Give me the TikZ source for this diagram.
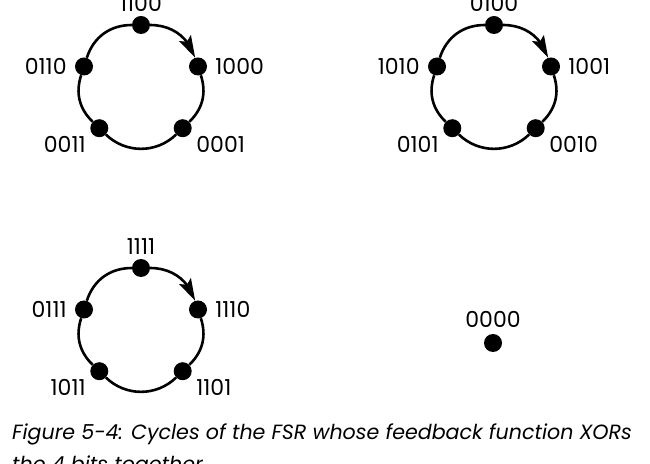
\documentclass[tikz,border=0pt]{standalone}
\usepackage{fontspec}
\setmainfont{Poppins}
\usetikzlibrary{positioning,arrows.meta,bending}

\begin{document}
\begin{tikzpicture}[x=1pt,y=1pt,>={Stealth[length=22pt,width=13pt,inset=4pt,flex]},node distance=8pt,
    vertex/.style={circle,fill,inner sep=0pt,minimum size=18pt},
    bits/.style={inner sep=0pt,font=\fontsize{22}{26}\selectfont},
    ring/.style={line width=2.6pt},
    caption/.style={inner sep=0pt,align=left,font=\fontsize{20.6}{32}\selectfont\itshape}]
  \useasboundingbox (0,0) rectangle (650,463);

  % cycle 1100 -> 1000 -> 0001 -> 0011 -> 0110
  \node[vertex] (a1) at (141,438) {};
  \node[vertex] (a2) at (198,396.5) {};
  \node[vertex] (a3) at (182.7,334.8) {};
  \node[vertex] (a4) at (99.3,334.8) {};
  \node[vertex] (a5) at (84,396.5) {};
  \node[bits,above=4pt of a1] (la1) {1100};
  \node[bits,right=of a2] (la2) {1000};
  \node[bits,below right=1pt and 7pt of a3] (la3) {0001};
  \node[bits,below left=1pt and 7pt of a4] (la4) {0011};
  \node[bits,left=of a5] (la5) {0110};
  \draw[ring,->] (a1) to[bend left=36] (a2);
  \draw[ring] (a2) to[bend left=32] (a3);
  \draw[ring] (a3) to[bend left=44] (a4);
  \draw[ring] (a4) to[bend left=32] (a5);
  \draw[ring] (a5) to[bend left=36] (a1);

  % cycle 0100 -> 1001 -> 0010 -> 0101 -> 1010
  \node[vertex] (b1) at (494,438) {};
  \node[vertex] (b2) at (551,396.5) {};
  \node[vertex] (b3) at (535.7,334.8) {};
  \node[vertex] (b4) at (452.3,334.8) {};
  \node[vertex] (b5) at (437,396.5) {};
  \node[bits,above=4pt of b1] (lb1) {0100};
  \node[bits,right=of b2] (lb2) {1001};
  \node[bits,below right=1pt and 7pt of b3] (lb3) {0010};
  \node[bits,below left=1pt and 7pt of b4] (lb4) {0101};
  \node[bits,left=of b5] (lb5) {1010};
  \draw[ring,->] (b1) to[bend left=36] (b2);
  \draw[ring] (b2) to[bend left=32] (b3);
  \draw[ring] (b3) to[bend left=44] (b4);
  \draw[ring] (b4) to[bend left=32] (b5);
  \draw[ring] (b5) to[bend left=36] (b1);

  % cycle 1111 -> 1110 -> 1101 -> 1011 -> 0111
  \node[vertex] (c1) at (141,195) {};
  \node[vertex] (c2) at (198,153.5) {};
  \node[vertex] (c3) at (182.7,91.8) {};
  \node[vertex] (c4) at (99.3,91.8) {};
  \node[vertex] (c5) at (84,153.5) {};
  \node[bits,above=4pt of c1] (lc1) {1111};
  \node[bits,right=of c2] (lc2) {1110};
  \node[bits,below right=1pt and 7pt of c3] (lc3) {1101};
  \node[bits,below left=1pt and 7pt of c4] (lc4) {1011};
  \node[bits,left=of c5] (lc5) {0111};
  \draw[ring,->] (c1) to[bend left=36] (c2);
  \draw[ring] (c2) to[bend left=32] (c3);
  \draw[ring] (c3) to[bend left=44] (c4);
  \draw[ring] (c4) to[bend left=32] (c5);
  \draw[ring] (c5) to[bend left=36] (c1);

  % fixed point
  \node[vertex] (d0) at (493,120) {};
  \node[bits,above=6pt of d0] (ld0) {0000};

  \node[caption,anchor=north west] (cap) at (12,39)
    {Figure 5-4: Cycles of the FSR whose feedback function XORs\\
     the 4 bits together};
\end{tikzpicture}
\end{document}
